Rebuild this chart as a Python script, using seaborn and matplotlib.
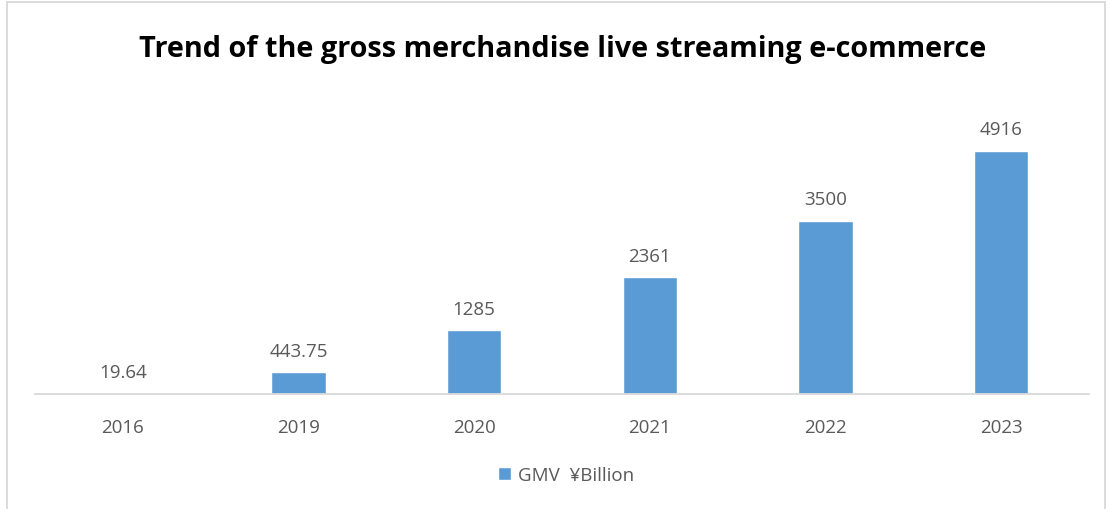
import matplotlib
matplotlib.use("Agg")
import matplotlib.pyplot as plt
import seaborn as sns
import pandas as pd
from matplotlib.patches import Rectangle

years = ["2016", "2019", "2020", "2021", "2022", "2023"]
gmv = [19.64, 443.75, 1285, 2361, 3500, 4916]
series_name = "GMV  ¥Billion"
title = "Trend of the gross merchandise live streaming e-commerce"

bar_color = "#5B9BD5"
text_color = "#595959"
grid_color = "#D9D9D9"

sns.set_theme(style="white")
plt.rcParams["font.family"] = ["Open Sans", "DejaVu Sans"]

df = pd.DataFrame({"year": years, "gmv": gmv})

fig = plt.figure(figsize=(11.11, 5.10), dpi=100)
ax = fig.add_axes([35 / 1111, 1 - 395 / 510, (1089 - 35) / 1111, (395 - 98) / 510])

sns.barplot(data=df, x="year", y="gmv", color=bar_color, width=0.31,
            saturation=1, ax=ax, label=series_name)
handles, labels = ax.get_legend_handles_labels()
if ax.get_legend() is not None:
    ax.get_legend().remove()

ax.set_ylim(0, 6000)
ax.set_xlim(-0.5, len(years) - 0.5)
ax.set_xlabel("")
ax.set_ylabel("")
ax.set_yticks([])
for side in ["top", "right", "left"]:
    ax.spines[side].set_visible(False)
ax.spines["bottom"].set_color(grid_color)
ax.spines["bottom"].set_linewidth(1.3)
ax.tick_params(axis="x", length=0, pad=17, labelsize=13.5, labelcolor=text_color)

ax.bar_label(ax.containers[0], labels=[f"{v:g}" for v in gmv], padding=9,
             fontsize=13.5, color=text_color)

fig.text(0.506, 1 - 49 / 510, title, ha="center", va="center",
         fontsize=20.8, fontweight="bold", color="black")

leg = fig.legend(handles, labels, loc="center", bbox_to_anchor=(566 / 1111, 1 - 476 / 510),
                 frameon=False, fontsize=13.5, handlelength=0.7, handleheight=0.7,
                 handletextpad=0.4)
for t in leg.get_texts():
    t.set_color(text_color)

fig.patches.append(Rectangle((7 / 1111, -0.05), (1105 - 7) / 1111, 1.05 - 3 / 510,
                             transform=fig.transFigure, fill=False,
                             edgecolor=grid_color, linewidth=1.3))

fig.savefig("out.png", dpi=100, facecolor="white")
